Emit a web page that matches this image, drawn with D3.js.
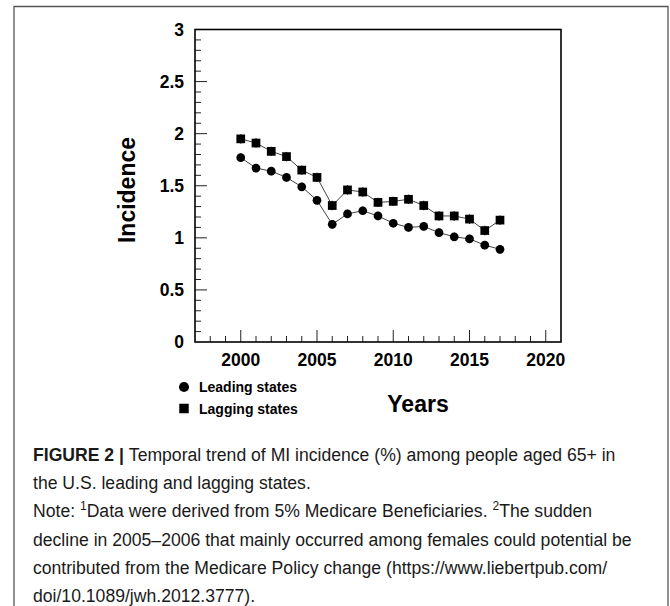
<!DOCTYPE html>
<html>
<head>
<meta charset="utf-8">
<script src="https://cdn.jsdelivr.net/npm/d3@7"></script>
<style>
  html, body { margin: 0; padding: 0; background: #fff; }
  svg { display: block; }
  .axis-lbl { font-family: "Liberation Sans", Arial, sans-serif; font-weight: bold; fill: #000; }
  .caption { font-family: "Liberation Sans", Arial, sans-serif; fill: #1a1a1a; }
</style>
</head>
<body>
<svg id="chart" width="670" height="606"></svg>
<script>
// MI incidence (%) per year, by state group
const years = [2000, 2001, 2002, 2003, 2004, 2005, 2006, 2007, 2008,
               2009, 2010, 2011, 2012, 2013, 2014, 2015, 2016, 2017];
const leading = [1.77, 1.67, 1.64, 1.58, 1.49, 1.36, 1.13, 1.23, 1.26,
                 1.21, 1.14, 1.10, 1.11, 1.05, 1.01, 0.99, 0.93, 0.89];
const lagging = [1.95, 1.91, 1.83, 1.78, 1.65, 1.58, 1.31, 1.46, 1.44,
                 1.34, 1.35, 1.37, 1.31, 1.21, 1.21, 1.18, 1.07, 1.17];
// half-width of the error bars
const leadingErr = [0.04, 0.04, 0.04, 0.04, 0.04, 0.04, 0.04, 0.04, 0.04,
                    0.04, 0.04, 0.04, 0.04, 0.04, 0.04, 0.04, 0.04, 0.04];
const laggingErr = [0.045, 0.045, 0.045, 0.045, 0.045, 0.045, 0.045, 0.045, 0.045,
                    0.045, 0.045, 0.045, 0.045, 0.045, 0.045, 0.045, 0.045, 0.045];
const xTicks = [2000, 2005, 2010, 2015, 2020];
const yTicks = [0, 0.5, 1, 1.5, 2, 2.5, 3];
const seriesNames = ["Leading states", "Lagging states"];

const svg = d3.select("#chart");

// outer figure frame (open at the bottom)
svg.append("path")
  .attr("d", "M14,606 L14,6.5 L668,6.5 L668,606")
  .attr("fill", "none").attr("stroke", "#555").attr("stroke-width", 1.3);

const plot = { left: 195, right: 561, top: 29.5, bottom: 342 };
const x = d3.scaleLinear().domain([1997, 2021]).range([plot.left, plot.right]);
const y = d3.scaleLinear().domain([0, 3]).range([plot.bottom, plot.top]);

// inward ticks: minor every year / every 0.1, major at labelled values
const g = svg.append("g");
const xMinor = d3.range(1998, 2021);
const yMinor = d3.range(1, 30).map(d => d / 10);

g.selectAll(".xt").data(xMinor).join("line")
  .attr("x1", d => x(d)).attr("x2", d => x(d))
  .attr("y1", plot.bottom)
  .attr("y2", d => plot.bottom - (d % 5 === 0 ? 12 : 6))
  .attr("stroke", "#222").attr("stroke-width", 1);
g.selectAll(".yt").data(yMinor).join("line")
  .attr("y1", d => y(d)).attr("y2", d => y(d))
  .attr("x1", plot.left)
  .attr("x2", d => plot.left + (Math.abs(d * 2 - Math.round(d * 2)) < 1e-6 ? 12 : 6))
  .attr("stroke", "#222").attr("stroke-width", 1);

// tick labels
svg.append("g").selectAll("text").data(yTicks).join("text")
  .attr("class", "axis-lbl")
  .attr("x", 184).attr("y", d => y(d) + 6)
  .attr("text-anchor", "end").attr("font-size", 17.5)
  .text(d => d3.format("~g")(d));
svg.append("g").selectAll("text").data(xTicks).join("text")
  .attr("class", "axis-lbl")
  .attr("x", d => x(d)).attr("y", 366)
  .attr("text-anchor", "middle").attr("font-size", 17.5)
  .text(d => d);

// axis titles
svg.append("text").attr("class", "axis-lbl")
  .attr("transform", "translate(135,190) rotate(-90)")
  .attr("text-anchor", "middle").attr("font-size", 23)
  .text("Incidence");
svg.append("text").attr("class", "axis-lbl")
  .attr("x", 418).attr("y", 412)
  .attr("text-anchor", "middle").attr("font-size", 23)
  .text("Years");

// series
const series = [
  { name: seriesNames[0], vals: leading, err: leadingErr, shape: d3.symbolCircle, size: 60 },
  { name: seriesNames[1], vals: lagging, err: laggingErr, shape: d3.symbolSquare, size: 76 }
];
const line = d3.line().x(d => x(d[0])).y(d => y(d[1]));

series.forEach(s => {
  const pts = years.map((yr, i) => [yr, s.vals[i], s.err[i]]);
  const sg = svg.append("g");
  sg.append("path").attr("d", line(pts))
    .attr("fill", "none").attr("stroke", "#444").attr("stroke-width", 1);
  sg.selectAll("line.err").data(pts).join("line")
    .attr("x1", d => x(d[0])).attr("x2", d => x(d[0]))
    .attr("y1", d => y(d[1] - d[2])).attr("y2", d => y(d[1] + d[2]))
    .attr("stroke", "#111").attr("stroke-width", 1.2);
  sg.selectAll("path.mk").data(pts).join("path")
    .attr("transform", d => `translate(${x(d[0])},${y(d[1])})`)
    .attr("d", d3.symbol().type(s.shape).size(s.size))
    .attr("fill", "#000");
});

// frame drawn on top
svg.append("rect")
  .attr("x", plot.left).attr("y", plot.top)
  .attr("width", plot.right - plot.left).attr("height", plot.bottom - plot.top)
  .attr("fill", "none").attr("stroke", "#000").attr("stroke-width", 1.6);

// legend
const leg = svg.append("g");
series.forEach((s, i) => {
  const cy = 387 + i * 21.5;
  leg.append("path")
    .attr("transform", `translate(184,${cy})`)
    .attr("d", d3.symbol().type(s.shape).size(i === 0 ? 80 : 90))
    .attr("fill", "#000");
  leg.append("text").attr("class", "axis-lbl")
    .attr("x", 199).attr("y", cy + 5).attr("font-size", 14)
    .text(s.name);
});

// caption
const capLines = [
  [["FIGURE 2 | ", "b"], ["Temporal trend of MI incidence (%) among people aged 65+ in", ""]],
  [["the U.S. leading and lagging states.", ""]],
  [["Note: ", ""], ["1", "sup"], ["Data were derived from 5% Medicare Beneficiaries. ", ""], ["2", "sup"], ["The sudden", ""]],
  [["decline in 2005\u20132006 that mainly occurred among females could potential be", ""]],
  [["contributed from the Medicare Policy change (https://www.liebertpub.com/", ""]],
  [["doi/10.1089/jwh.2012.3777).", ""]]
];
const cap = svg.append("g");
capLines.forEach((ln, i) => {
  const t = cap.append("text").attr("class", "caption")
    .attr("x", 33).attr("y", 461 + i * 28.2).attr("font-size", 17.6);
  ln.forEach(([txt, kind]) => {
    const ts = t.append("tspan").text(txt);
    if (kind === "b") ts.attr("font-weight", "bold");
    if (kind === "sup") ts.attr("font-size", 12).attr("baseline-shift", "super");
  });
});
</script>
</body>
</html>
